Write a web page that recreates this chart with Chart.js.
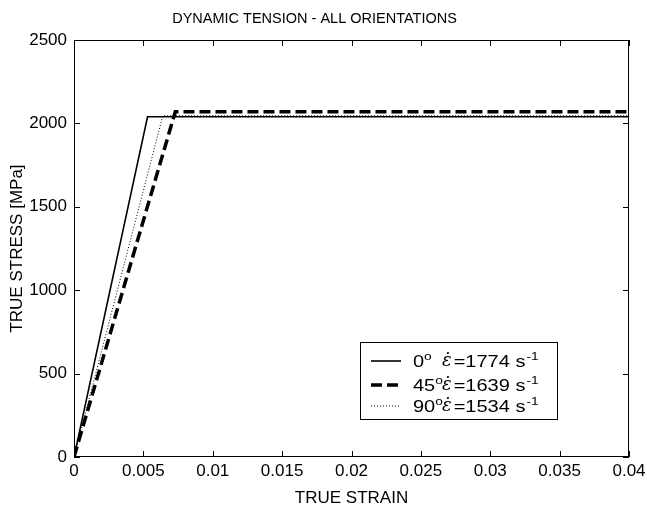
<!DOCTYPE html>
<html>
<head>
<title>Dynamic tension</title>
<script src="https://cdn.jsdelivr.net/npm/chart.js@4.4.0/dist/chart.umd.min.js"></script>
<style>
  body { margin: 0; background: #fff; }
</style>
</head>
<body>
<canvas id="myChart" width="647" height="510"></canvas>
<script>
// data
const strain0 = [0, 0.0053, 0.04];
const stress0 = [0, 2040, 2040];
const strain45 = [0, 0.0073, 0.04];
const stress45 = [0, 2070, 2070];
const strain90 = [0, 0.0064, 0.04];
const stress90 = [0, 2046, 2046];

const angles = ['0', '45', '90'];
const rates = ['1774', '1639', '1534'];

const xTicks = [0, 0.005, 0.01, 0.015, 0.02, 0.025, 0.03, 0.035, 0.04];
const yTicks = [0, 500, 1000, 1500, 2000, 2500];

function pts(xs, ys) {
    return xs.map((x, i) => ({ x: x, y: ys[i] }));
}

const FONT = 'Arial, "Liberation Sans", sans-serif';

// inward ticks on all four sides, plus the frame
const boxTicks = {
    id: 'boxTicks',
    afterDraw(chart) {
        const ctx = chart.ctx;
        const a = chart.chartArea;
        const xs = chart.scales.x, ys = chart.scales.y;
        ctx.save();
        ctx.strokeStyle = '#000';
        ctx.lineWidth = 1;
        ctx.strokeRect(a.left + 0.5, a.top + 0.5, a.right - a.left - 1, a.bottom - a.top - 1);
        ctx.beginPath();
        xTicks.forEach(v => {
            const px = Math.round(xs.getPixelForValue(v)) + 0.5;
            ctx.moveTo(px, a.bottom); ctx.lineTo(px, a.bottom - 6);
            ctx.moveTo(px, a.top); ctx.lineTo(px, a.top + 6);
        });
        yTicks.forEach(v => {
            const py = Math.round(ys.getPixelForValue(v)) + 0.5;
            ctx.moveTo(a.left, py); ctx.lineTo(a.left + 6, py);
            ctx.moveTo(a.right, py); ctx.lineTo(a.right - 6, py);
        });
        ctx.stroke();
        ctx.restore();
    }
};

// the legend text in the picture is a bit wide, so stretch it sideways
function wideText(ctx, t, x, y, sx) {
    ctx.save();
    ctx.translate(x, y);
    ctx.scale(sx, 1);
    ctx.fillText(t, 0, 0);
    ctx.restore();
    return ctx.measureText(t).width * sx;
}

// legend box with the strain-rate labels
const rateLegend = {
    id: 'rateLegend',
    afterDraw(chart) {
        const ctx = chart.ctx;
        const ds = chart.data.datasets;
        const bx = 360, by = 342, bw = 197, bh = 77;
        const sx = 1.25;
        ctx.save();
        ctx.fillStyle = '#fff';
        ctx.fillRect(bx, by, bw, bh);
        ctx.strokeStyle = '#000';
        ctx.lineWidth = 1;
        ctx.strokeRect(bx + 0.5, by + 0.5, bw, bh);
        const rows = [361, 385, 406];
        rows.forEach((ry, i) => {
            const d = ds[i];
            ctx.beginPath();
            ctx.setLineDash(d.borderDash || []);
            ctx.lineWidth = d.borderWidth;
            ctx.moveTo(371, ry); ctx.lineTo(401, ry);
            ctx.stroke();
            ctx.setLineDash([]);
            ctx.fillStyle = '#000';
            ctx.textBaseline = 'alphabetic';
            ctx.font = '16px ' + FONT;
            let x = 413;
            x += wideText(ctx, angles[i], x, ry + 6, sx);
            ctx.font = '11px ' + FONT;
            wideText(ctx, 'o', x, ry - 1, sx);
            x = 442;
            ctx.font = 'italic 18px "DejaVu Serif", serif';
            x += wideText(ctx, '\u03B5\u0307', x, ry + 5, 1) + 2;
            ctx.font = '16px ' + FONT;
            x += wideText(ctx, '=' + rates[i] + ' s', x, ry + 6, sx) + 1;
            ctx.font = '11px ' + FONT;
            wideText(ctx, '-1', x, ry - 1, sx);
        });
        ctx.restore();
    }
};

const ctx = document.getElementById('myChart').getContext('2d');
const chart = new Chart(ctx, {
    type: 'line',
    data: {
        datasets: [{
            label: '0',
            data: pts(strain0, stress0),
            borderColor: '#000',
            borderWidth: 1.6,
            pointRadius: 0,
            fill: false
        }, {
            label: '45',
            data: pts(strain45, stress45),
            borderColor: '#000',
            borderWidth: 3.5,
            borderDash: [11, 5],
            pointRadius: 0,
            fill: false
        }, {
            label: '90',
            data: pts(strain90, stress90),
            borderColor: '#000',
            borderWidth: 1,
            borderDash: [1, 2],
            pointRadius: 0,
            fill: false
        }]
    },
    options: {
        responsive: false,
        animation: false,
        layout: { padding: { left: 0, right: 18, top: 0, bottom: 0 } },
        plugins: {
            legend: { display: false },
            tooltip: { enabled: false },
            title: {
                display: true,
                text: 'DYNAMIC TENSION - ALL ORIENTATIONS',
                color: '#000',
                font: { family: FONT, size: 14.5, weight: 'normal' },
                padding: { top: 10, bottom: 12.6 }
            }
        },
        scales: {
            x: {
                type: 'linear',
                min: 0,
                max: 0.04,
                grid: { display: false, drawTicks: false },
                border: { display: false },
                afterBuildTicks: s => { s.ticks = xTicks.map(v => ({ value: v })); },
                ticks: {
                    autoSkip: false,
                    color: '#000',
                    font: { family: FONT, size: 17 },
                    padding: 4,
                    maxRotation: 0,
                    callback: v => String(+v.toFixed(3))
                },
                title: {
                    display: true,
                    text: 'TRUE STRAIN',
                    color: '#000',
                    font: { family: FONT, size: 17 },
                    padding: { top: 6, bottom: 1 }
                },
                afterFit: s => { s.height = 53; s.paddingRight = 0; }
            },
            y: {
                min: 0,
                max: 2500,
                grid: { display: false, drawTicks: false },
                border: { display: false },
                afterBuildTicks: s => { s.ticks = yTicks.map(v => ({ value: v })); },
                ticks: {
                    autoSkip: false,
                    color: '#000',
                    font: { family: FONT, size: 17 },
                    padding: 7,
                    callback: v => String(v)
                },
                title: {
                    display: true,
                    text: 'TRUE STRESS [MPa]',
                    color: '#000',
                    font: { family: FONT, size: 17 },
                    padding: { top: 7, bottom: 4 }
                },
                afterFit: s => { s.width = 74; s.paddingTop = 0; }
            }
        }
    },
    plugins: [boxTicks, rateLegend]
});
</script>
</body>
</html>
